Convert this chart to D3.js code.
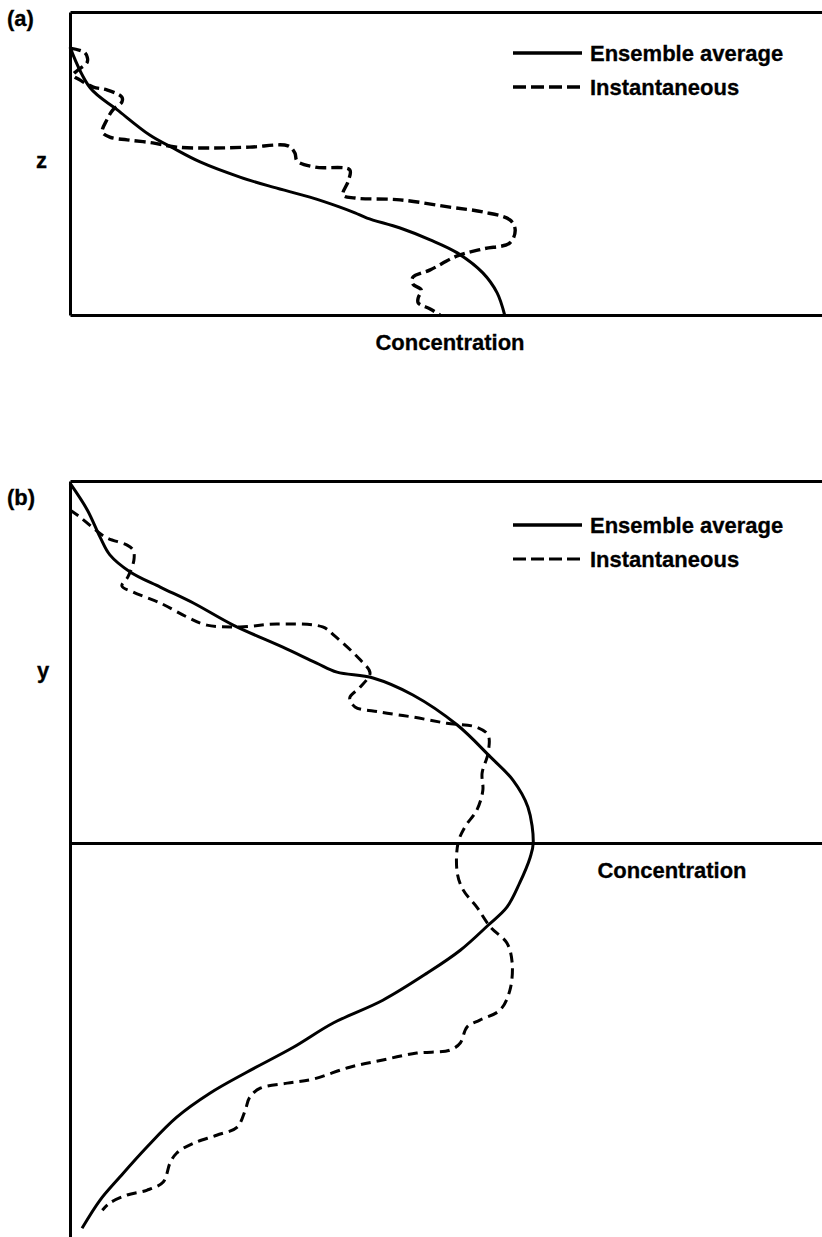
<!DOCTYPE html>
<html>
<head>
<meta charset="utf-8">
<script src="https://cdn.jsdelivr.net/npm/d3@7"></script>
<style>
	body { margin:0; background:#fff; }
	text { font-family:"Liberation Sans", Arial, sans-serif; font-weight:bold; fill:#000; stroke:#000; stroke-width:0.3; }
	.axis path { stroke:#000; stroke-width:3; }
</style>
</head>
<body>
<div id="graph"></div>
<script>
// profiles as [concentration, height] pairs, arbitrary units 0..100
var ensembleA = [[0,88.4],[2.7,74.9],[6.3,67.7],[10.6,59.4],[13.7,55.1],[17.3,50.5],[22.6,45.5],[27.0,42.2],
	[31.9,38.9],[35.9,35.6],[37.9,33.7],[39.5,32.0],[43.9,28.7],[47.9,24.8],[51.5,20.5],[54.9,13.9],[56.8,7.3],[57.8,0]];
var instantA = [[0,88.1],[2.0,86.5],[2.3,83.5],[1.1,80.9],[0.4,79.2],[1.3,77.6],[3.1,75.2],[4.9,74.3],[6.9,71.9],
	[6.9,70.3],[5.7,67.7],[4.9,64.4],[4.3,60.4],[5.3,58.7],[7.6,57.8],[11.0,56.8],[14.2,55.4],[19.0,55.1],[23.9,55.4],
	[29.0,55.8],[29.9,53.5],[30.2,50.8],[32.6,48.8],[37.2,47.9],[37.0,44.2],[36.3,39.6],[37.9,38.6],[43.9,38.0],
	[50.5,35.6],[54.9,34.0],[58.5,31.4],[59.2,28.1],[58.5,23.8],[54.9,21.8],[51.5,19.5],[47.9,14.9],[45.6,12.5],
	[45.6,10.2],[46.7,8.3],[46.3,5.6],[46.3,4.0],[47.9,2.0],[49.2,0]];
var ensembleB = [[0,99.4],[2.3,92.0],[4.0,84.5],[5.3,79.6],[8.0,74.9],[12.0,70.7],[16.4,66.3],[21.7,60.2],[28.3,54.1],
	[32.8,49.7],[35.5,47.2],[40.3,45.6],[45.6,40.9],[51.5,32.6],[55.9,23.8],[58.9,17.4],[60.9,9.9],[61.6,0],[61.2,-3.9],
	[59.8,-11.0],[58.1,-17.7],[55.6,-22.7],[51.9,-29.6],[47.5,-35.9],[41.6,-43.4],[35.0,-49.7],[29.7,-56.4],[23.5,-63.3],
	[18.6,-69.1],[14.2,-75.7],[10.2,-84.0],[6.6,-92.3],[4.0,-98.6],[1.6,-106.4]];
var instantB = [[0,92.0],[1.3,90.1],[3.1,87.0],[4.9,84.3],[7.6,82.3],[8.4,80.9],[8.5,78.2],[7.7,73.5],[6.9,71.0],
	[8.4,69.3],[12.0,66.3],[15.6,62.4],[18.2,60.2],[22.6,59.7],[27.5,60.5],[33.6,59.7],[35.2,57.2],[38.6,50.6],
	[39.9,47.0],[38.6,43.1],[37.2,40.1],[37.9,37.6],[41.2,36.2],[45.6,34.8],[50.1,33.1],[54.1,32.0],[55.6,29.8],
	[55.6,24.9],[54.8,19.3],[54.9,14.6],[54.1,9.1],[52.5,4.4],[51.6,0],[51.5,-8.3],[52.3,-13.0],[54.1,-17.7],
	[55.9,-23.2],[58.1,-27.6],[58.8,-33.1],[58.5,-40.6],[57.2,-46.1],[54.5,-48.9],[52.8,-50.8],[51.9,-55.2],
	[50.5,-57.2],[46.1,-58.0],[41.6,-59.9],[37.2,-61.9],[32.3,-65.2],[28.9,-66.3],[25.3,-67.7],[23.9,-70.2],
	[23.3,-73.8],[22.2,-78.5],[19.5,-80.7],[16.4,-82.9],[14.2,-85.6],[13.3,-88.4],[12.4,-93.6],[10.2,-95.9],
	[7.6,-97.2],[5.3,-99.4],[4.3,-101.4]];

var panelLabels = ["(a)", "(b)"];
var heightLabels = ["z", "y"];
var xLabel = "Concentration";
var legendLabels = ["Ensemble average", "Instantaneous"];

var width = 822, height = 1237;
var graph, xA, yA, xB, yB;

function setUpChart() {
	graph = d3.select("div#graph")
		.append("svg")
		.attr("width", width)
		.attr("height", height);

	xA = d3.scaleLinear().domain([0, 100]).range([70, 822]);
	yA = d3.scaleLinear().domain([0, 100]).range([315, 12]);
	xB = d3.scaleLinear().domain([0, 100]).range([70, 822]);
	yB = d3.scaleLinear().domain([-108.8, 100]).range([1237, 481]);

	/* bare axis lines, no ticks */
	graph.append("g").attr("class", "axis")
		.attr("transform", `translate(${xA(0)},0)`)
		.call(d3.axisLeft(yA).ticks(0).tickSizeOuter(0));
	graph.append("g").attr("class", "axis")
		.attr("transform", `translate(0,${yA(0)})`)
		.call(d3.axisBottom(xA).ticks(0).tickSizeOuter(0));
	graph.append("g").attr("class", "axis")
		.attr("transform", `translate(0,${yA(100)})`)
		.call(d3.axisTop(xA).ticks(0).tickSizeOuter(0));

	graph.append("g").attr("class", "axis")
		.attr("transform", `translate(${xB(0)},0)`)
		.call(d3.axisLeft(yB).ticks(0).tickSizeOuter(0));
	graph.append("g").attr("class", "axis")
		.attr("transform", `translate(0,${yB(0)})`)
		.call(d3.axisBottom(xB).ticks(0).tickSizeOuter(0));
	graph.append("g").attr("class", "axis")
		.attr("transform", `translate(0,${yB(100)})`)
		.call(d3.axisTop(xB).ticks(0).tickSizeOuter(0));

	// labels
	graph.append("text").attr("x", 7).attr("y", 26).style("font-size", "22px").text(panelLabels[0]);
	graph.append("text").attr("x", 7).attr("y", 505).style("font-size", "22px").text(panelLabels[1]);
	graph.append("text").attr("x", 36).attr("y", 168).style("font-size", "22px").text(heightLabels[0]);
	graph.append("text").attr("x", 37).attr("y", 678).style("font-size", "22px").text(heightLabels[1]);

	graph.append("text").attr("x", 450).attr("y", 350)
		.style("font-size", "22px").style("text-anchor", "middle").text(xLabel);
	graph.append("text").attr("x", 672).attr("y", 878)
		.style("font-size", "22px").style("text-anchor", "middle").text(xLabel);
}

function drawPanel(x, y, avg, inst, legendTop, dash, dashWidth) {
	var line = d3.line()
		.curve(d3.curveCatmullRom.alpha(0.5))
		.x(d => x(d[0]))
		.y(d => y(d[1]));

	graph.append("path").datum(avg)
		.attr("fill", "none")
		.attr("stroke", "#000")
		.attr("stroke-width", 3)
		.attr("stroke-linejoin", "round")
		.attr("d", line);

	graph.append("path").datum(inst)
		.attr("fill", "none")
		.attr("stroke", "#000")
		.attr("stroke-width", dashWidth)
		.attr("stroke-dasharray", dash)
		.attr("d", line);

	var legend = graph.append("g")
		.attr("class", "legend")
		.attr("transform", "translate(513," + legendTop + ")");
	legend.selectAll("line").data(legendLabels).enter()
		.append("line")
		.attr("x1", 0).attr("x2", 69)
		.attr("y1", (d, i) => i * 34).attr("y2", (d, i) => i * 34)
		.attr("stroke", "#000")
		.attr("stroke-width", (d, i) => i ? dashWidth : 3.4)
		.attr("stroke-dasharray", (d, i) => i ? "13,5" : null);
	legend.selectAll("text").data(legendLabels).enter()
		.append("text")
		.attr("x", 77)
		.attr("y", (d, i) => i * 34)
		.attr("dy", "0.36em")
		.style("font-size", "22px")
		.text(d => d);
}

setUpChart();
drawPanel(xA, yA, ensembleA, instantA, 53, "11,5", 3.4);
drawPanel(xB, yB, ensembleB, instantB, 525, "10,6", 3);
</script>
</body>
</html>
